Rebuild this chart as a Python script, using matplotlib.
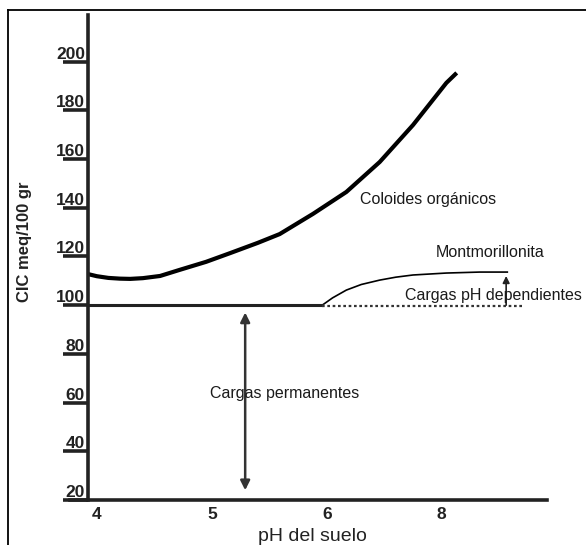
import matplotlib.pyplot as plt
from matplotlib.lines import Line2D

plt.rcParams['font.family'] = ['Liberation Sans', 'DejaVu Sans']

# curve (x in axis positions: 4, 5, 6, "8")
organic_x = [3.92, 4.00, 4.10, 4.20, 4.29, 4.40, 4.55, 4.72, 4.95, 5.16, 5.40, 5.59, 5.88, 6.17, 6.46, 6.75, 7.04, 7.13]
organic_y = [112.8, 111.9, 111.2, 110.9, 110.8, 111.1, 112.0, 114.5, 117.8, 121.4, 125.6, 129.2, 137.5, 146.5, 158.8, 174.0, 191.3, 195.4]

montmo_x = [5.96, 6.05, 6.17, 6.30, 6.46, 6.60, 6.75, 7.04, 7.33, 7.57]
montmo_y = [100.0, 103.0, 106.2, 108.5, 110.3, 111.5, 112.4, 113.2, 113.6, 113.6]

perm_x = [3.92, 5.96]
perm_y = [100, 100]
dotted_x = [5.96, 7.70]
dotted_y = [99.6, 99.6]

xticks = [4, 5, 6, 7]
xticklabels = ['4', '5', '6', '8']
yticks = [20, 40, 60, 80, 100, 120, 140, 160, 180, 200]

fig = plt.figure(figsize=(5.86, 5.45), dpi=100)
ax = fig.add_axes([0.150, 0.0826, 0.783, 0.890])

ax.plot(organic_x, organic_y, color='black', lw=3.0, solid_capstyle='butt', solid_joinstyle='round')
ax.plot(montmo_x, montmo_y, color='black', lw=1.2)
ax.plot(perm_x, perm_y, color='#222222', lw=2.2)
ax.plot(dotted_x, dotted_y, color='#333333', lw=1.6, ls=(0, (1.2, 1.2)))

# double arrow "cargas permanentes"
ax.annotate('', xy=(5.29, 24.0), xytext=(5.29, 97.0),
            arrowprops=dict(arrowstyle='<|-|>', color='#333333', lw=1.8,
                            mutation_scale=14, shrinkA=0, shrinkB=0))
# small arrow for pH dependent charges
ax.annotate('', xy=(7.56, 112.0), xytext=(7.56, 100.0),
            arrowprops=dict(arrowstyle='-|>', color='#222222', lw=1.2,
                            mutation_scale=10, shrinkA=0, shrinkB=0))

ax.text(6.88, 143.2, 'Coloides orgánicos', ha='center', va='center', fontsize=11.5, color='#1a1a1a')
ax.text(7.42, 121.8, 'Montmorillonita', ha='center', va='center', fontsize=11.5, color='#1a1a1a')
ax.text(7.45, 103.8, 'Cargas pH dependientes', ha='center', va='center', fontsize=11.5, color='#1a1a1a')
ax.text(5.63, 63.9, 'Cargas permanentes', ha='center', va='center', fontsize=11.5, color='#1a1a1a')

ax.set_xlim(3.922, 7.913)
ax.set_ylim(20, 219.2)

for s in ['top', 'right']:
    ax.spines[s].set_visible(False)
for s in ['left', 'bottom']:
    ax.spines[s].set_linewidth(2.6)
    ax.spines[s].set_color('#222222')
ax.spines['bottom'].set_bounds(3.922 - 18 / 115, 7.913)
ax.spines['bottom'].set_clip_on(False)

ax.set_yticks(yticks)
ax.set_yticklabels([str(v) for v in yticks], fontsize=12.5, fontweight='bold', color='#222222')
ax.tick_params(axis='y', direction='out', length=18, width=2.6, color='#222222', pad=-16)
for lbl in ax.get_yticklabels():
    lbl.set_va('bottom')

ax.set_xticks(xticks)
ax.set_xticklabels(xticklabels, fontsize=12.5, fontweight='bold', color='#222222')
ax.tick_params(axis='x', length=0, pad=5)

ax.set_xlabel('pH del suelo', fontsize=14, color='#222222')
ax.set_ylabel('CIC meq/100 gr', fontsize=12, fontweight='bold', color='#222222')
ax.yaxis.set_label_coords(-0.122, 0.532)
ax.xaxis.set_label_coords(0.49, -0.058)

# outer frame (left and top only are visible)
fig.add_artist(Line2D([8 / 586, 8 / 586], [0, 1 - 10 / 545], color='black', lw=1.3))
fig.add_artist(Line2D([8 / 586, 1], [1 - 10 / 545, 1 - 10 / 545], color='black', lw=1.3))

fig.savefig('out.png', dpi=100)
